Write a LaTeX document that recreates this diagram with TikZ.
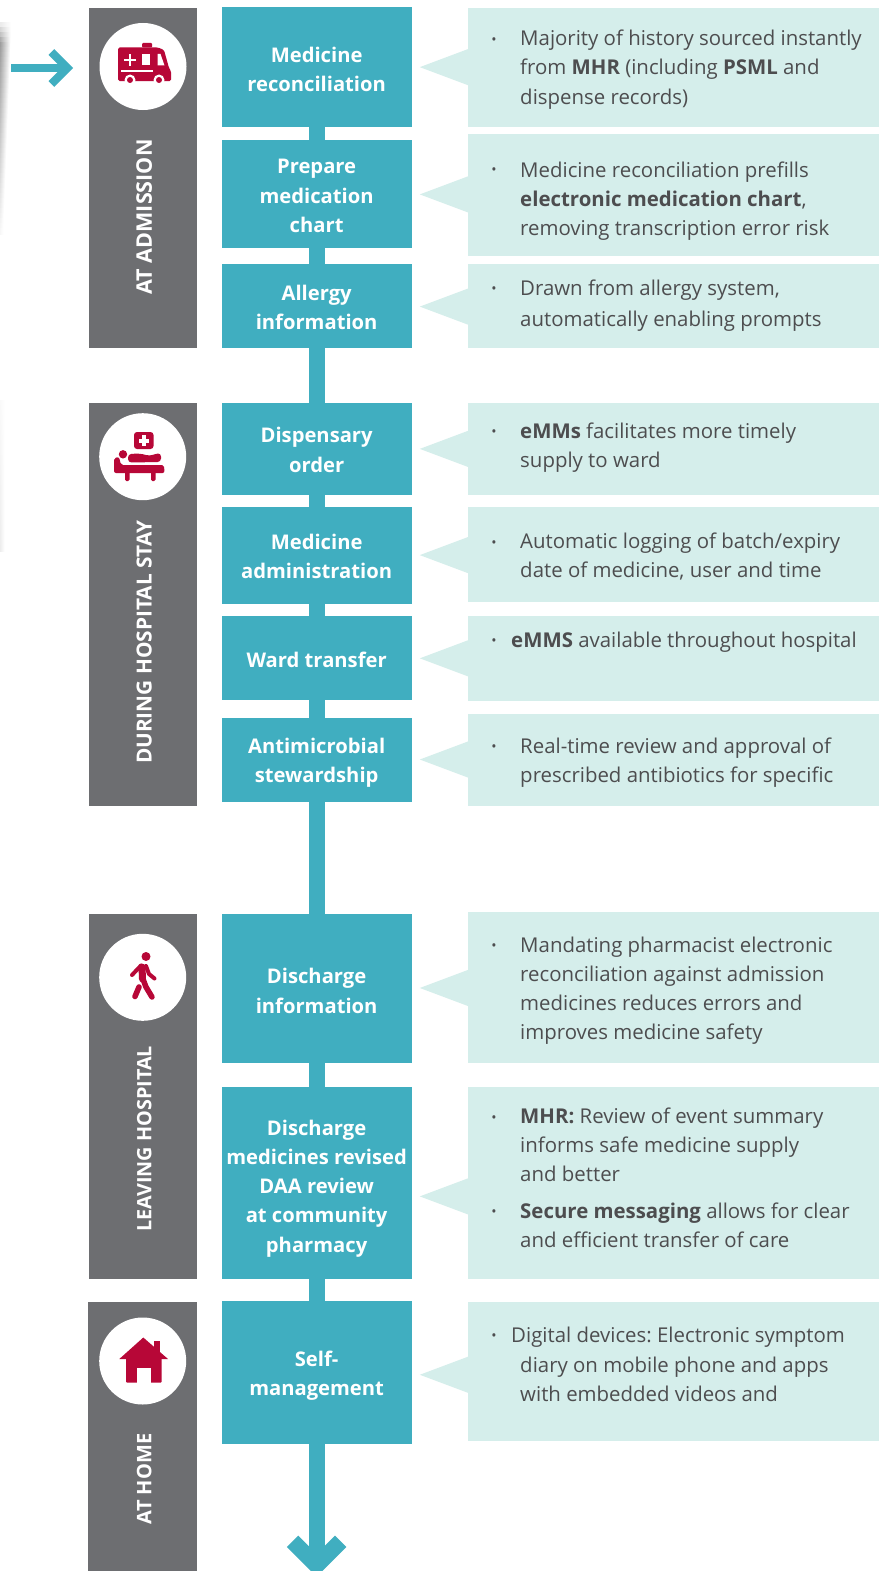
\documentclass[tikz,border=0pt]{standalone}
\usepackage{fontspec}
\setmainfont{Open Sans}
\usetikzlibrary{arrows.meta}
\frenchspacing
\definecolor{teal}{HTML}{40AEC0}
\definecolor{pale}{HTML}{D5EEEB}
\definecolor{slate}{HTML}{6D6E71}
\definecolor{ink}{HTML}{4D4D4F}
\definecolor{crim}{HTML}{B70737}
\newcommand{\stagefont}[1]{\fontsize{#1}{22}\selectfont\bfseries}
\tikzset{
  real/.style={x=1pt,y=-1pt},
  stagetext/.style={rotate=90,text=white,inner sep=0pt},
  disc/.style={circle,fill=white,minimum size=87pt,inner sep=0pt},
  stepbox/.style={rectangle,fill=teal,inner sep=0pt,minimum width=190pt},
  steplabel/.style={text=white,inner sep=0pt,align=center,font=\fontsize{20.2}{29.3}\selectfont\bfseries\frenchspacing},
  spine/.style={teal,line width=16pt},
  note/.style={fill=pale},
  notetext/.style={text=ink,inner sep=0pt,anchor=north west,align=left,font=\fontsize{20.4}{29.1}\selectfont\frenchspacing},
  dot/.style={text=ink,inner sep=0pt,anchor=base,font=\fontsize{14}{14}\selectfont},
  icon/.style={fill=crim,draw=none},
}
\newcommand{\stepnode}[5]{%
  \node[stepbox,minimum height=#3pt] (#1) at (316,#2) {};
  \node[steplabel] (#1t) at (316,#4) {#5};}
\newcommand{\notebox}[3]{%
  \fill[note] (467,#1) rectangle (877,#2);
  \fill[note] (467,#3-18) -- (419,#3) -- (467,#3+18) -- cycle;}
\begin{document}
\begin{tikzpicture}[x=1.002pt,y=-1.002pt]
\path[use as bounding box,real] (0,0) rectangle (879,1571);
\fill[white,real] (0,0) rectangle (879,1571);
\begin{scope}
\clip[real] (0,0) rectangle (879,1571);
% shadow
\begin{scope}[real]
\foreach \i in {0,...,41}{
  \pgfmathsetmacro{\ya}{23+5*\i}
  \pgfmathsetmacro{\yb}{\ya+6}
  \pgfmathsetmacro{\g}{\i<4 ? 8+8*\i : max(2,38-36*(\i-4)/38)}
  \pgfmathsetmacro{\w}{max(3.5,11-8*\i/41)}
  \shade[left color=black!\g,right color=white] (0,\ya) rectangle (\w,\yb);
}
\foreach \i in {0,...,29}{
  \pgfmathsetmacro{\ya}{400+5*\i}
  \pgfmathsetmacro{\yb}{\ya+6}
  \pgfmathsetmacro{\g}{2+5*\i/29}
  \shade[left color=black!\g,right color=white] (0,\ya) rectangle (4.5,\yb);
}
\end{scope}
% stages
\fill[slate] (89,8) rectangle (197,347);
\fill[slate] (89,402) rectangle (197,804);
\fill[slate] (89,912) rectangle (197,1276);
\fill[slate] (88,1299) rectangle (197,1571);
\node[stagetext,font=\stagefont{21.5}] (s1) at (144,216.5) {AT ADMISSION};
\node[stagetext,font=\stagefont{20.8}] (s2) at (144,641) {DURING HOSPITAL STAY};
\node[stagetext,font=\stagefont{19.8}] (s3) at (144,1136.5) {LEAVING HOSPITAL};
\node[stagetext,font=\stagefont{20}] (s4) at (144,1476) {AT HOME};
% steps
\stepnode{b1}{67}{120}{69}{Medicine\\reconciliation}
\stepnode{b2}{193.5}{108}{195.5}{Prepare\\medication\\chart}
\stepnode{b3}{305}{84}{307}{Allergy\\information}
\stepnode{b4}{448}{92}{449}{Dispensary\\order}
\stepnode{b5}{554.5}{97}{555.5}{Medicine\\administration}
\stepnode{b6}{656.5}{84}{659}{Ward transfer}
\stepnode{b7}{758}{84}{761.5}{Antimicrobial\\stewardship}
\stepnode{b8}{986.5}{149}{989}{Discharge\\information}
\stepnode{b9}{1181}{192}{1186}{Discharge\\medicines revised\\DAA review\\at community\\pharmacy}
\stepnode{b10}{1369.5}{143}{1373}{Self-\\management}
\foreach \p/\q in {b1/b2,b2/b3,b3/b4,b4/b5,b5/b6,b6/b7,b7/b8,b8/b9,b9/b10}{
  \draw[spine,shorten <=-1pt,shorten >=-1pt] (\p.south) -- (\q.north);
}
\coordinate (endB) at (316,1573.5);
\draw[spine,shorten <=-1pt,-{Straight Barb[length=24pt,width=48pt,line width=16pt,sharp]}] (b10.south) -- (endB);
% notes
\notebox{8}{127}{67}
\notebox{134}{255}{194}
\notebox{263.6}{347.6}{306}
\notebox{402}{494}{448}
\notebox{506}{601}{554}
\notebox{615}{700}{657}
\notebox{713}{804}{758}
\notebox{910}{1061}{986}
\notebox{1085}{1276}{1194}
\notebox{1299}{1438}{1372}
\node[dot] (u1) at (493,44) {•};
\node[notetext] (t1) at (519,30) {Majority of history sourced instantly\\from \textbf{MHR} (including \textbf{PSML} and\\dispense records)};
\node[dot] (u2) at (493,174) {•};
\node[notetext] (t2) at (519,161) {Medicine reconciliation prefills\\\textbf{electronic medication chart},\\removing transcription error risk};
\node[dot] (u3) at (493,293) {•};
\node[notetext] (t3) at (519,279) {Drawn from allergy system,\\[2pt]automatically enabling prompts};
\node[dot] (u4) at (493,436) {•};
\node[notetext] (t4) at (519,422) {\textbf{eMMs} facilitates more timely\\supply to ward};
\node[dot] (u5) at (493,546) {•};
\node[notetext] (t5) at (519,532) {Automatic logging of batch/expiry\\date of medicine, user and time};
\node[dot] (u6) at (493,644) {•};
\node[notetext] (t6) at (510,631) {\textbf{eMMS} available throughout hospital};
\node[dot] (u7) at (493,750) {•};
\node[notetext] (t7) at (519,736) {Real-time review and approval of\\prescribed antibiotics for specific};
\node[dot] (u8) at (493,949) {•};
\node[notetext] (t8) at (519,935) {Mandating pharmacist electronic\\reconciliation against admission\\medicines reduces errors and\\improves medicine safety};
\node[dot] (u9) at (493,1120) {•};
\node[notetext] (t9) at (519,1105.5) {\textbf{MHR:} Review of event summary\\informs safe medicine supply\\and better};
\node[dot] (u10) at (493,1214) {•};
\node[notetext] (t10) at (519,1200) {\textbf{Secure messaging} allows for clear\\and efficient transfer of care};
\node[dot] (u11) at (493,1338) {•};
\node[notetext] (t11) at (510,1324) {Digital devices: Electronic symptom};
\node[notetext] (t12) at (519,1354) {diary on mobile phone and apps\\with embedded videos and};
\begin{scope}[real]
\node[disc] (d1) at (143,66.5) {};
\node[disc] (d2) at (142.7,456.7) {};
\node[disc] (d3) at (142.7,977.3) {};
\node[disc] (d4) at (142.7,1361) {};
\coordinate (inA) at (11,68);
\coordinate (inB) at (73,68);
\draw[teal,line width=8.5pt,-{Straight Barb[length=16pt,width=32pt,line width=8pt,sharp]}] (inA) -- (inB);
% ambulance
\fill[icon,rounded corners=1.5pt] (118,47.5) -- (158,47.5) -- (164,50) -- (169,68) -- (171,71) -- (171,81) -- (118,81) -- cycle;
\fill[icon,rounded corners=1pt] (142,47.5) rectangle (152,43);
\fill[white] (142,54) rectangle (150,65);
\fill[white] (157.5,54) -- (160.5,54) -- (164.5,65.5) -- (157.5,65.5) -- cycle;
\fill[white] (128.6,54.5) rectangle (131,66);
\fill[white] (124,59) rectangle (136,61.5);
\fill[white] (121,70) rectangle (153,72.5);
\fill[white] (130,80) circle (5.5);
\fill[white] (159,80) circle (5.5);
\fill[icon] (130,80) circle (3);
\fill[icon] (159,80) circle (3);
% bed
\fill[icon,rounded corners=3pt] (134,432) rectangle (153.5,449);
\fill[white] (141.5,435) rectangle (146,446);
\fill[white] (138.5,438.5) rectangle (149,443);
\fill[icon] (123,454.3) circle (4.2);
\fill[icon,rounded corners=3.5pt] (128,454) -- (140,453.5) -- (150,456) -- (155,454) -- (161,453) -- (161,462) -- (128,462.5) -- cycle;
\fill[icon,rounded corners=2pt] (114,458) -- (119,457) -- (121,465) -- (164,465) -- (164.5,473) -- (114,473) -- cycle;
\fill[icon,rounded corners=1.5pt] (125,470) rectangle (129.5,481);
\fill[icon,rounded corners=1.5pt] (151,470) rectangle (155.5,481);
% walker
\fill[icon] (146,956.5) circle (4.5);
\draw[crim,line width=7pt,line cap=round] (142,967) -- (142.5,979);
\draw[crim,line width=4pt,line cap=round,line join=round] (141,965.5) -- (132,975);
\draw[crim,line width=4pt,line cap=round,line join=round] (146,966) -- (149,974) -- (154.5,978.5);
\draw[crim,line width=5.5pt,line cap=round,line join=round] (143,979) -- (146,987) -- (152,997);
\draw[crim,line width=5.5pt,line cap=round] (139,987) -- (135,996.5);
% house
\fill[icon] (154,1352) rectangle (160,1341);
\fill[icon] (143.3,1337.5) -- (168,1359) -- (119.3,1359) -- cycle;
\fill[icon,rounded corners=1pt] (126,1358) rectangle (161.7,1382.7);
\fill[white] (136.7,1368.3) rectangle (150.7,1383);
\end{scope}
\end{scope}
\end{tikzpicture}
\end{document}
